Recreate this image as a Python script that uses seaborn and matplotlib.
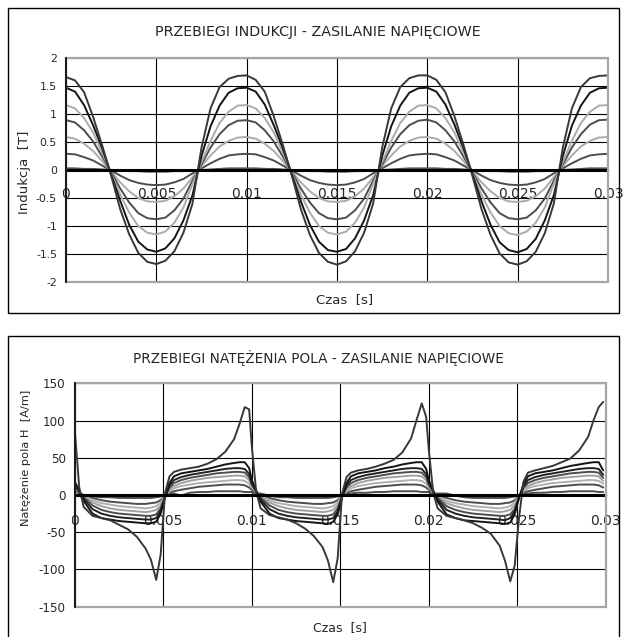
import matplotlib.pyplot as plt
import numpy as np
import pandas as pd
import seaborn as sns
from matplotlib.patches import Rectangle

# ---------------- top chart: induction B [T] vs time (ms) ----------------
t_top_ms = [0, 0.5, 1, 1.5, 2, 2.5, 3, 3.5, 4, 4.5, 5, 5.5, 6, 6.5, 7, 7.5, 8, 8.5, 9, 9.5,
            10, 10.5, 11, 11.5, 12, 12.5, 13, 13.5, 14, 14.5, 15, 15.5, 16, 16.5, 17, 17.5, 18, 18.5, 19, 19.5,
            20, 20.5, 21, 21.5, 22, 22.5, 23, 23.5, 24, 24.5, 25, 25.5, 26, 26.5, 27, 27.5, 28, 28.5, 29, 29.5,
            30]

b_168 = [1.66, 1.6, 1.39, 0.95, 0.44, -0.1, -0.7, -1.15, -1.48, -1.64, -1.68, -1.62, -1.45, -1.12, -0.6, 0.4, 1.1, 1.48, 1.63, 1.68,
         1.69, 1.61, 1.4, 0.96, 0.45, -0.1, -0.7, -1.16, -1.48, -1.64, -1.69, -1.63, -1.45, -1.12, -0.6, 0.4, 1.1, 1.48, 1.64, 1.69,
         1.69, 1.61, 1.39, 0.96, 0.45, -0.11, -0.7, -1.16, -1.49, -1.65, -1.69, -1.63, -1.46, -1.13, -0.6, 0.4, 1.1, 1.48, 1.64, 1.68,
         1.69]
b_146 = [1.47, 1.4, 1.16, 0.8, 0.39, -0.08, -0.55, -0.98, -1.28, -1.42, -1.46, -1.4, -1.22, -0.9, -0.45, 0.25, 0.78, 1.15, 1.38, 1.46,
         1.47, 1.4, 1.17, 0.8, 0.39, -0.08, -0.56, -0.98, -1.28, -1.43, -1.46, -1.41, -1.22, -0.9, -0.45, 0.25, 0.78, 1.15, 1.38, 1.46,
         1.47, 1.4, 1.17, 0.81, 0.39, -0.08, -0.56, -0.98, -1.29, -1.43, -1.47, -1.41, -1.23, -0.9, -0.45, 0.25, 0.79, 1.15, 1.38, 1.46,
         1.47]
b_116 = [1.16, 1.1, 0.93, 0.67, 0.31, -0.06, -0.44, -0.76, -1.0, -1.12, -1.15, -1.1, -0.94, -0.67, -0.25, 0.14, 0.52, 0.84, 1.04, 1.15,
         1.16, 1.1, 0.93, 0.67, 0.31, -0.06, -0.44, -0.76, -1.0, -1.12, -1.15, -1.1, -0.94, -0.67, -0.25, 0.14, 0.52, 0.84, 1.04, 1.15,
         1.16, 1.1, 0.93, 0.67, 0.31, -0.06, -0.44, -0.76, -1.0, -1.13, -1.16, -1.1, -0.94, -0.67, -0.25, 0.14, 0.52, 0.84, 1.04, 1.15,
         1.16]
b_089 = [0.89, 0.85, 0.71, 0.51, 0.24, -0.04, -0.33, -0.58, -0.77, -0.86, -0.88, -0.85, -0.72, -0.51, -0.19, 0.1, 0.4, 0.64, 0.8, 0.88,
         0.89, 0.85, 0.71, 0.51, 0.24, -0.04, -0.33, -0.58, -0.77, -0.86, -0.88, -0.85, -0.72, -0.51, -0.19, 0.1, 0.4, 0.64, 0.8, 0.88,
         0.9, 0.85, 0.71, 0.51, 0.24, -0.04, -0.33, -0.58, -0.77, -0.86, -0.88, -0.85, -0.72, -0.51, -0.19, 0.1, 0.4, 0.64, 0.81, 0.89,
         0.9]
b_058 = [0.59, 0.56, 0.47, 0.34, 0.16, -0.03, -0.22, -0.38, -0.5, -0.56, -0.57, -0.55, -0.47, -0.33, -0.13, 0.07, 0.26, 0.42, 0.52, 0.58,
         0.59, 0.56, 0.47, 0.34, 0.16, -0.03, -0.22, -0.38, -0.5, -0.56, -0.57, -0.55, -0.47, -0.33, -0.13, 0.07, 0.26, 0.42, 0.52, 0.58,
         0.59, 0.56, 0.47, 0.34, 0.16, -0.03, -0.22, -0.38, -0.5, -0.56, -0.57, -0.55, -0.47, -0.33, -0.13, 0.07, 0.26, 0.42, 0.52, 0.58,
         0.59]
b_028 = [0.29, 0.28, 0.23, 0.17, 0.08, -0.01, -0.1, -0.18, -0.23, -0.26, -0.27, -0.26, -0.22, -0.16, -0.06, 0.03, 0.12, 0.2, 0.26, 0.28,
         0.29, 0.28, 0.23, 0.17, 0.08, -0.01, -0.1, -0.18, -0.23, -0.26, -0.27, -0.26, -0.22, -0.16, -0.06, 0.03, 0.12, 0.2, 0.26, 0.28,
         0.29, 0.28, 0.23, 0.17, 0.08, -0.01, -0.1, -0.18, -0.23, -0.26, -0.27, -0.26, -0.22, -0.16, -0.06, 0.03, 0.12, 0.2, 0.26, 0.28,
         0.29]
b_003 = [0.03, 0.03, 0.02, 0.02, 0.01, 0.0, -0.01, -0.02, -0.02, -0.03, -0.03, -0.03, -0.02, -0.02, -0.01, 0.0, 0.01, 0.02, 0.03, 0.03,
         0.03, 0.03, 0.02, 0.02, 0.01, 0.0, -0.01, -0.02, -0.02, -0.03, -0.03, -0.03, -0.02, -0.02, -0.01, 0.0, 0.01, 0.02, 0.03, 0.03,
         0.03, 0.03, 0.02, 0.02, 0.01, 0.0, -0.01, -0.02, -0.02, -0.03, -0.03, -0.03, -0.02, -0.02, -0.01, 0.0, 0.01, 0.02, 0.03, 0.03,
         0.03]

# zero-amplitude trace (flat line), same for both charts
t_flat_ms = [0, 30]
flat = [0.0, 0.0]

# ---------------- bottom chart: field strength H [A/m] vs time (ms) ----------------
t_bot_ms = [0, 0.25, 0.5, 1, 1.5, 2, 2.5, 3, 3.5, 4, 4.3, 4.6, 4.85, 5.1, 5.35, 5.6, 6, 6.5, 7, 7.5, 8, 8.5, 9, 9.3, 9.6, 9.85,
            10, 10.25, 10.5, 11, 11.5, 12, 12.5, 13, 13.5, 14, 14.3, 14.6, 14.85, 15.1, 15.35, 15.6, 16, 16.5, 17, 17.5, 18, 18.5, 19, 19.3, 19.6, 19.85,
            20, 20.25, 20.5, 21, 21.5, 22, 22.5, 23, 23.5, 24, 24.3, 24.6, 24.85, 25.1, 25.35, 25.6, 26, 26.5, 27, 27.5, 28, 28.5, 29, 29.3, 29.6, 29.85]

h_sat = [87, 10, -16, -28, -31, -34, -40, -46, -56, -72, -87, -114, -80, 3, 25, 31, 34, 36, 38, 42, 48, 58, 75, 95, 118, 115,
         65, 4, -18, -27, -30, -33, -38, -45, -55, -70, -88, -117, -85, 2, 24, 30, 33, 35, 38, 42, 47, 57, 76, 100, 123, 105,
         60, 3, -18, -28, -31, -34, -38, -44, -52, -68, -88, -116, -95, -30, 18, 30, 33, 36, 39, 44, 49, 60, 78, 100, 118, 125]
h_r7 = [18, 6, -8, -25, -31, -33, -35, -36, -37, -38, -38, -36, -25, -3, 16, 25, 29, 31, 33, 35, 38, 41, 43, 44, 44, 36,
        20, 6, -9, -25, -31, -33, -35, -36, -37, -38, -39, -36, -26, -3, 16, 25, 29, 31, 33, 36, 38, 41, 43, 44, 44, 35,
        20, 6, -9, -26, -31, -34, -35, -36, -37, -38, -39, -37, -26, -4, 15, 25, 29, 31, 33, 36, 39, 41, 43, 44, 44, 33]
h_r6 = [14, 5, -5, -19, -25, -28, -30, -31, -32, -33, -33, -31, -21, -3, 13, 20, 24, 27, 29, 31, 33, 35, 36, 36, 35, 28,
        16, 5, -6, -19, -25, -28, -30, -31, -32, -33, -33, -31, -22, -3, 13, 20, 24, 27, 29, 31, 33, 35, 36, 36, 35, 28,
        16, 5, -6, -20, -25, -28, -30, -31, -32, -33, -34, -31, -22, -3, 12, 20, 24, 27, 29, 31, 33, 35, 36, 36, 35, 27]
h_r5 = [12, 4, -3, -14, -20, -23, -25, -26, -27, -28, -28, -26, -18, -2, 10, 16, 20, 23, 25, 27, 29, 30, 31, 31, 30, 24,
        14, 4, -4, -14, -20, -23, -25, -26, -27, -28, -28, -26, -18, -2, 10, 16, 20, 23, 25, 27, 29, 30, 31, 31, 30, 24,
        14, 4, -4, -15, -20, -23, -25, -26, -27, -28, -28, -26, -19, -2, 10, 16, 20, 23, 25, 27, 29, 30, 31, 31, 30, 23]
h_r4 = [10, 4, -2, -10, -15, -18, -20, -21, -22, -23, -22, -20, -14, -2, 8, 12, 16, 19, 21, 23, 24, 25, 26, 26, 25, 20,
        12, 4, -2, -10, -15, -18, -20, -21, -22, -23, -22, -20, -14, -2, 8, 12, 16, 19, 21, 23, 24, 25, 26, 26, 25, 20,
        12, 4, -2, -11, -15, -18, -20, -21, -22, -23, -22, -20, -14, -2, 8, 12, 16, 19, 21, 23, 24, 25, 26, 26, 25, 19]
h_r3 = [9, 3, -1, -7, -11, -13, -15, -16, -17, -18, -17, -15, -10, -1, 5, 9, 12, 14, 16, 17, 18, 19, 20, 20, 19, 15,
        10, 3, -1, -7, -11, -13, -15, -16, -17, -18, -17, -15, -10, -1, 5, 9, 12, 14, 16, 17, 18, 19, 20, 20, 19, 15,
        10, 3, -1, -8, -11, -13, -15, -16, -17, -18, -17, -15, -10, -1, 5, 9, 12, 14, 16, 17, 18, 19, 20, 20, 19, 15]
h_r2 = [7, 3, 0, -4, -7, -9, -10, -11, -12, -12, -11, -10, -7, -1, 3, 5, 7, 9, 11, 12, 13, 14, 14, 14, 13, 10,
        7, 3, 0, -4, -7, -9, -10, -11, -12, -12, -11, -10, -7, -1, 3, 5, 7, 9, 11, 12, 13, 14, 14, 14, 13, 10,
        7, 3, 0, -4, -7, -9, -10, -11, -12, -12, -11, -10, -7, -1, 3, 5, 7, 9, 11, 12, 13, 14, 14, 14, 13, 10]
h_r1 = [5, 2, 0, -2, -3, -3, -4, -4, -4, -4, -4, -3, -2, 0, 1, 2, -1, 3, 4, 4, 5, 5, 5, 5, 4, 4,
        4, 2, 2, -1, -3, -3, -4, -4, -4, -4, -4, -3, -2, 0, 1, 2, 3, 3, 4, 4, 5, 5, 5, 5, 4, 4,
        4, 2, 2, 2, -1, -3, -4, -4, -4, -4, -4, -3, -2, 0, 1, 2, 3, 3, 4, 4, 5, 5, 5, 5, 4, 4]

x_ticks = [0, 0.005, 0.01, 0.015, 0.02, 0.025, 0.03]
x_labels = ["0", "0.005", "0.01", "0.015", "0.02", "0.025", "0.03"]
b_ticks = [-2, -1.5, -1, -0.5, 0, 0.5, 1, 1.5, 2]
b_labels = ["-2", "-1.5", "-1", "-0.5", "0", "0.5", "1", "1.5", "2"]
h_ticks = [-150, -100, -50, 0, 50, 100, 150]
h_labels = ["-150", "-100", "-50", "0", "50", "100", "150"]


def to_long(t_ms, series):
    parts = [pd.DataFrame({"t": np.asarray(t_ms) / 1000.0, "v": vals, "curve": name})
             for name, vals in series.items()]
    return pd.concat(parts, ignore_index=True)


top_series = {"0.03": b_003, "0.28": b_028, "0.58": b_058, "0.89": b_089,
              "1.16": b_116, "1.46": b_146, "1.68": b_168}
top_colors = {"0.03": "#555555", "0.28": "#4d4d4d", "0.58": "#ababab", "0.89": "#4d4d4d",
              "1.16": "#ababab", "1.46": "#141414", "1.68": "#383838"}
bot_series = {"r1": h_r1, "r2": h_r2, "r3": h_r3, "r4": h_r4, "r5": h_r5,
              "r6": h_r6, "r7": h_r7, "sat": h_sat}
bot_colors = {"r1": "#4d4d4d", "r2": "#4d4d4d", "r3": "#b0b0b0", "r4": "#a0a0a0", "r5": "#4d4d4d",
              "r6": "#202020", "r7": "#141414", "sat": "#383838"}

df_top = to_long(t_top_ms, top_series)
df_bot = to_long(t_bot_ms, bot_series)
df_flat = to_long(t_flat_ms, {"0": flat})

sns.set_style("white")
plt.rcParams["font.family"] = ["DejaVu Sans"]
plt.rcParams["axes.unicode_minus"] = False

fig = plt.figure(figsize=(6.25, 6.37), dpi=100)
ax1 = fig.add_axes([0.1056, 0.5573, 0.8672, 0.3516])
ax2 = fig.add_axes([0.1197, 0.0476, 0.8496, 0.3507])

sns.lineplot(data=df_top, x="t", y="v", hue="curve", hue_order=list(top_series),
             palette=top_colors, estimator=None, legend=False, linewidth=1.4, ax=ax1)
sns.lineplot(data=df_flat, x="t", y="v", color="black", estimator=None, linewidth=2.2, ax=ax1)
sns.lineplot(data=df_bot, x="t", y="v", hue="curve", hue_order=list(bot_series),
             palette=bot_colors, estimator=None, legend=False, linewidth=1.4, ax=ax2)
sns.lineplot(data=df_flat, x="t", y="v", color="black", estimator=None, linewidth=2.2, ax=ax2)


def style_axes(ax, yticks, ylabels, tick_fs, xpad):
    ax.set_xlim(0, 0.03)
    ax.set_ylim(yticks[0], yticks[-1])
    ax.set_xticks(x_ticks)
    ax.set_xticklabels(x_labels, fontsize=tick_fs)
    ax.set_yticks(yticks)
    ax.set_yticklabels(ylabels, fontsize=tick_fs)
    ax.set_xlabel("")
    ax.set_ylabel("")
    ax.grid(True, color="black", linewidth=0.8)
    ax.set_axisbelow(True)
    for side in ["top", "right"]:
        ax.spines[side].set_visible(False)
    ax.spines["bottom"].set_position(("data", 0))
    ax.spines["bottom"].set_color("black")
    ax.spines["bottom"].set_linewidth(1.0)
    ax.spines["left"].set_color("black")
    ax.spines["left"].set_linewidth(1.2)
    ax.spines["left"].set_zorder(3)
    ax.add_patch(Rectangle((0, 0), 1, 1, transform=ax.transAxes, fill=False,
                           edgecolor="#a6a6a6", linewidth=1.6, zorder=2.6, clip_on=False))
    ax.tick_params(axis="x", direction="out", length=3, width=0.8, color="black", pad=xpad)
    ax.tick_params(axis="y", direction="out", length=3.5, width=0.8, color="black", pad=3)


style_axes(ax1, b_ticks, b_labels, 7.8, 9.5)
style_axes(ax2, h_ticks, h_labels, 8.6, 11)

# titles and axis captions
fig.text(0.509, 0.9498, "PRZEBIEGI INDUKCJI - ZASILANIE NAPIĘCIOWE", ha="center", va="center", fontsize=10.3)
fig.text(0.552, 0.529, "Czas  [s]", ha="center", va="center", fontsize=9.5)
fig.text(0.040, 0.730, "Indukcja  [T]", ha="center", va="center", rotation=90, fontsize=9.5)

fig.text(0.509, 0.438, "PRZEBIEGI NATĘŻENIA POLA - ZASILANIE NAPIĘCIOWE", ha="center", va="center", fontsize=9.8)
fig.text(0.544, 0.0141, "Czas  [s]", ha="center", va="center", fontsize=9)
fig.text(0.0416, 0.281, "Natężenie pola H  [A/m]", ha="center", va="center", rotation=90, fontsize=8.2)

# panel frames
fig.add_artist(Rectangle((0.0128, 0.5086), 0.9776, 0.4788, transform=fig.transFigure,
                         fill=False, edgecolor="black", linewidth=1.0))
fig.add_artist(Rectangle((0.0128, -0.02), 0.9776, 0.4925, transform=fig.transFigure,
                         fill=False, edgecolor="black", linewidth=1.0))

fig.savefig("out.png", dpi=100)
